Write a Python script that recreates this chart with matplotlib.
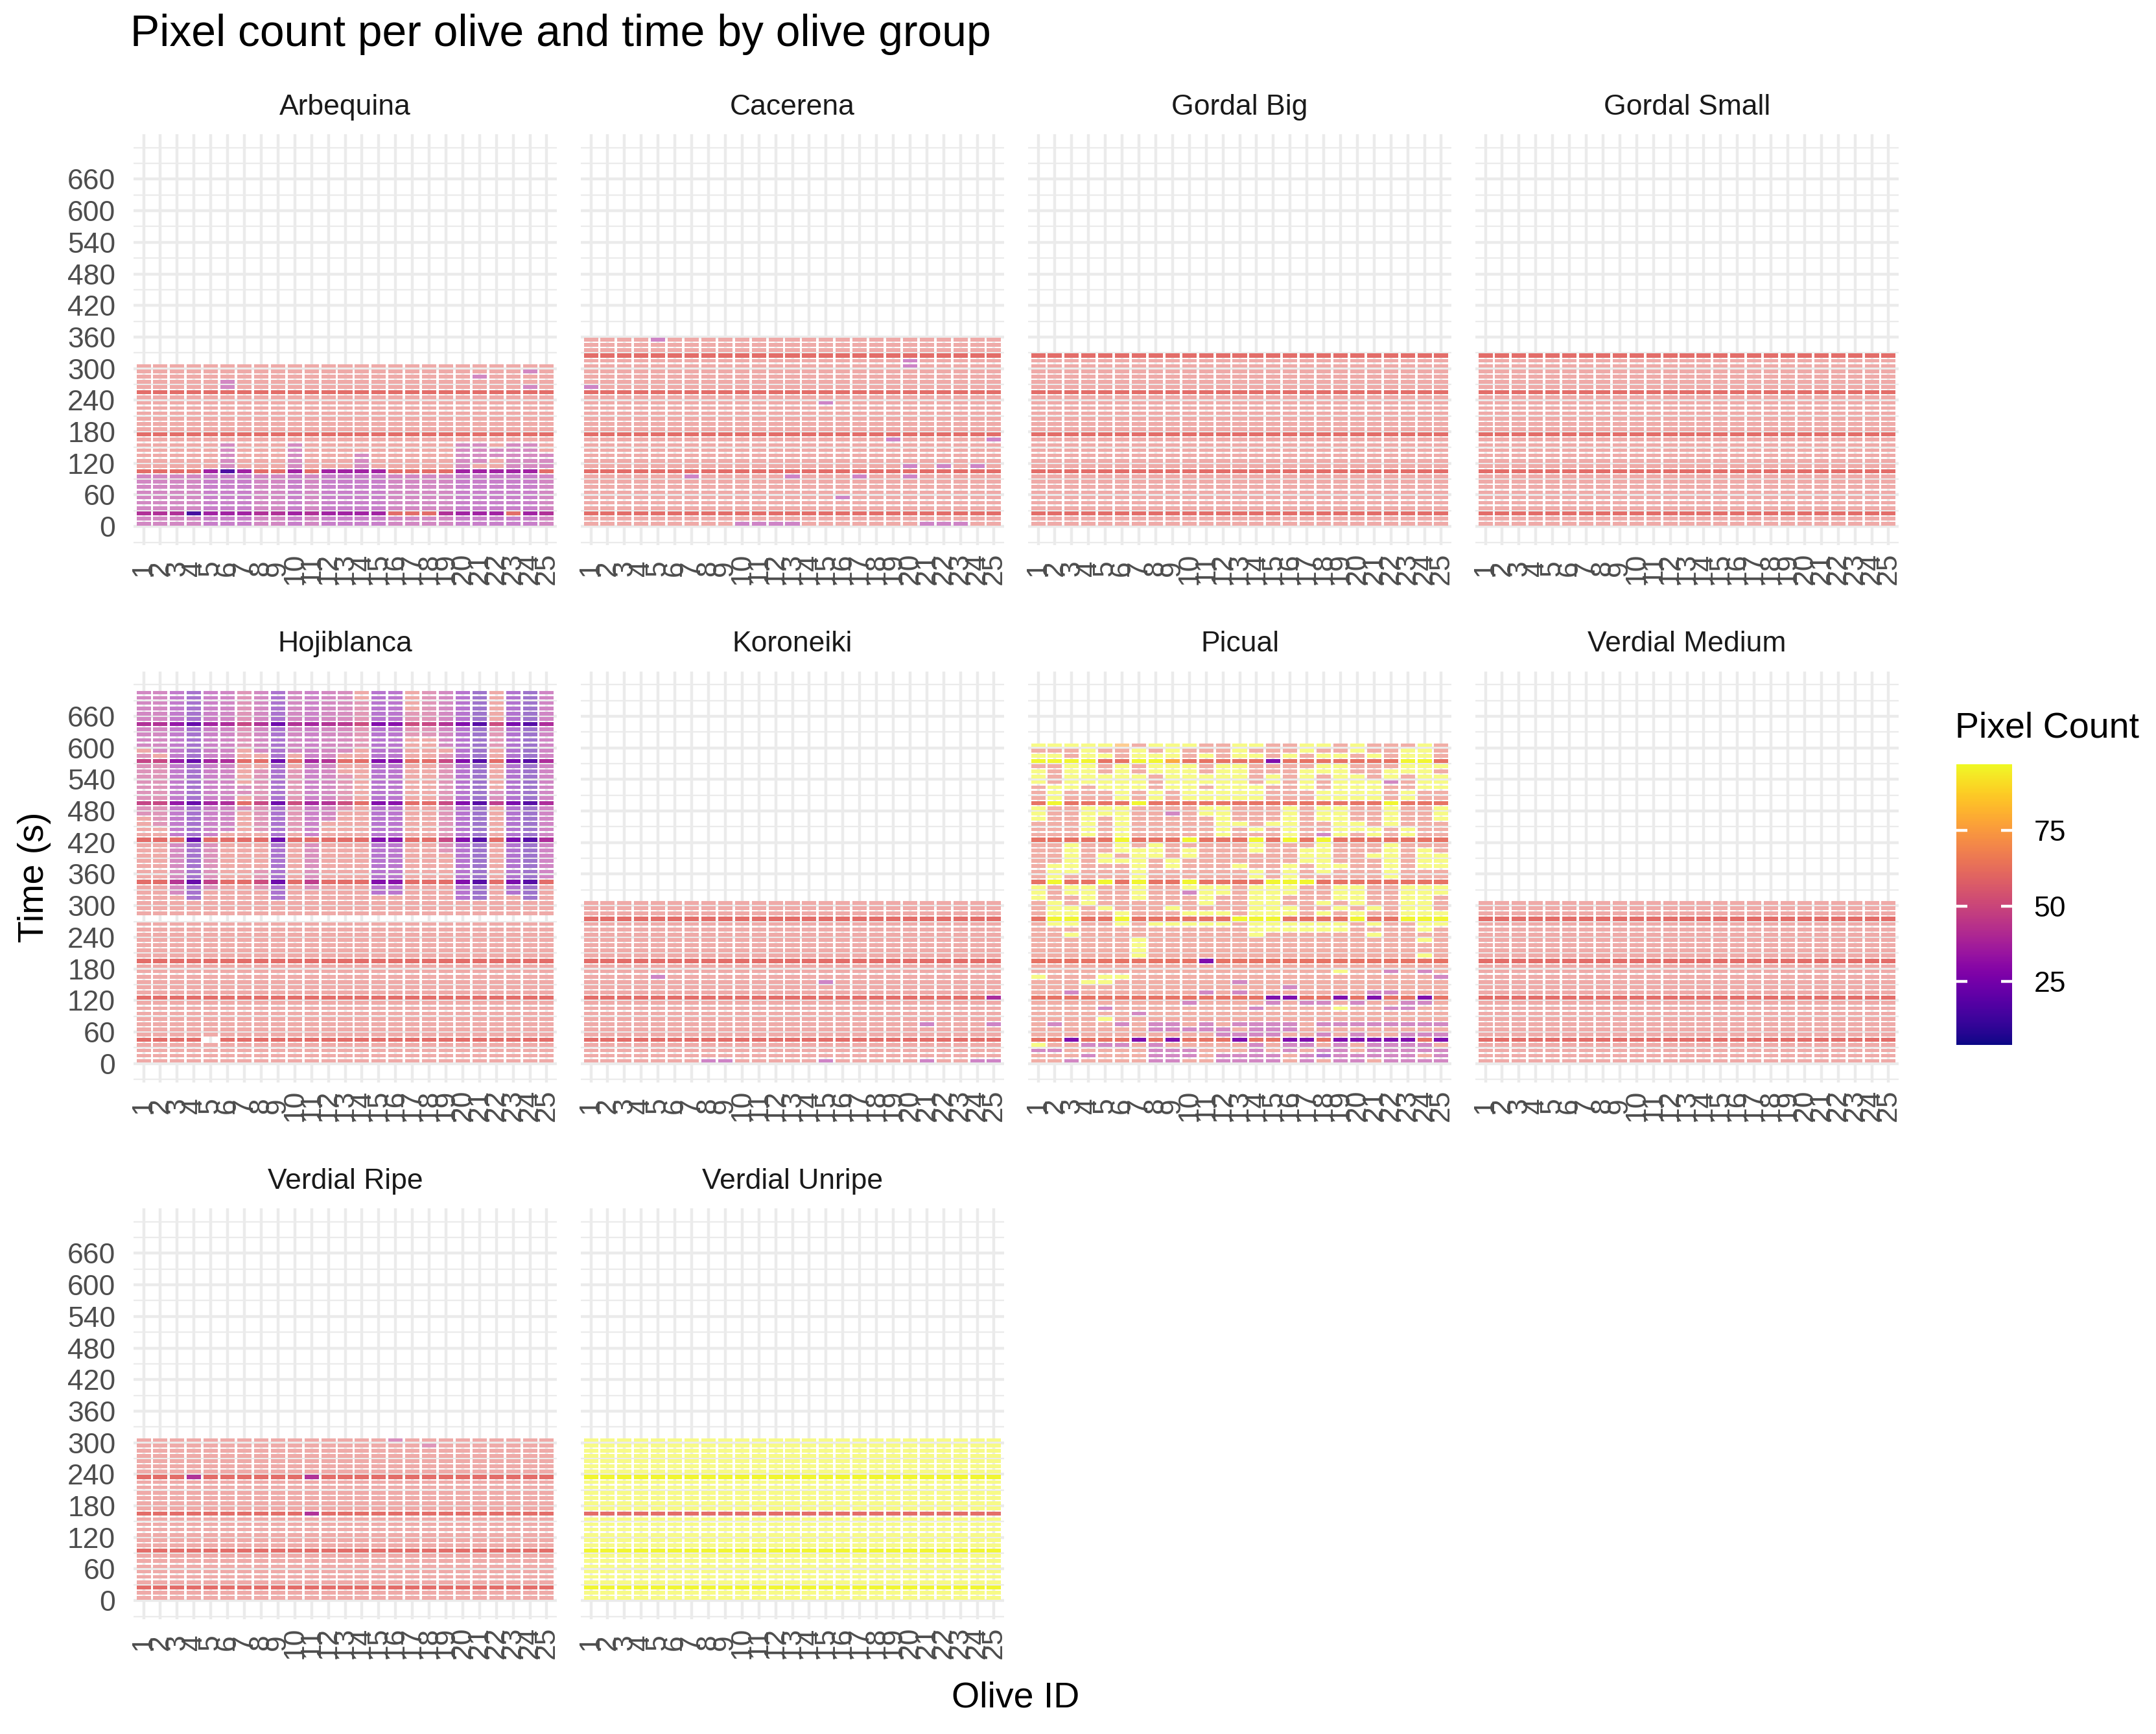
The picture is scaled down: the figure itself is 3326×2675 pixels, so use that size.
import numpy as np
import matplotlib
matplotlib.use('Agg')
from matplotlib import pyplot as plt
from matplotlib.colors import Normalize

plt.rcParams['font.family'] = ['Liberation Sans', 'DejaVu Sans']

# ---- data ----------------------------------------------------------------
groups = ['Arbequina', 'Cacerena', 'Gordal Big', 'Gordal Small', 'Hojiblanca',
          'Koroneiki', 'Picual', 'Verdial Medium', 'Verdial Ripe', 'Verdial Unripe']
olive_ids = list(range(1, 26))
time_step = 10
last_time = {'Arbequina': 305, 'Cacerena': 355, 'Gordal Big': 325, 'Gordal Small': 325,
             'Hojiblanca': 705, 'Koroneiki': 305, 'Picual': 605, 'Verdial Medium': 305,
             'Verdial Ripe': 305, 'Verdial Unripe': 305}
base_count = {'Arbequina': 60, 'Cacerena': 60, 'Gordal Big': 60, 'Gordal Small': 60,
              'Hojiblanca': 60, 'Koroneiki': 60, 'Picual': 62, 'Verdial Medium': 60,
              'Verdial Ripe': 60, 'Verdial Unripe': 96}
missing_times = {'Hojiblanca': [275]}
missing_cells = {'Hojiblanca': [(5, 45)]}
count_limits = (4, 97)

# (group, olives, time from, time to, pixel count)
count_patches = [
    ('Arbequina', olive_ids, 5, 95, 40),
    ('Arbequina', [5, 6, 7, 10, 12, 13, 14, 15, 20, 21, 22, 23, 24], 5, 105, 35),
    ('Arbequina', [16, 17, 18, 23], 25, 25, 60),
    ('Arbequina', [4], 25, 25, 12), ('Arbequina', [6], 105, 105, 14),
    ('Arbequina', [6, 10, 20, 23, 24], 115, 155, 42),
    ('Arbequina', [14, 25], 115, 135, 42), ('Arbequina', [21], 125, 155, 42),
    ('Arbequina', [22], 135, 145, 42), ('Arbequina', [6], 265, 275, 40),
    ('Arbequina', [21], 285, 285, 40), ('Arbequina', [24], 265, 265, 40),
    ('Arbequina', [24], 295, 295, 40),
    ('Cacerena', [5], 355, 355, 38), ('Cacerena', [20], 305, 315, 38),
    ('Cacerena', [1], 265, 265, 38), ('Cacerena', [15], 235, 235, 38),
    ('Cacerena', [19, 25], 165, 165, 38), ('Cacerena', [20, 22, 24], 115, 115, 38),
    ('Cacerena', [7, 13, 17, 20], 95, 95, 38), ('Cacerena', [16], 55, 55, 38),
    ('Cacerena', [10, 11, 12, 13, 21, 22, 23], 5, 5, 38),
    ('Koroneiki', [5], 165, 165, 38), ('Koroneiki', [15], 155, 155, 38),
    ('Koroneiki', [25], 125, 125, 38), ('Koroneiki', [21, 25], 75, 75, 38),
    ('Koroneiki', [8, 9, 15, 21, 24, 25], 5, 5, 38),
    ('Verdial Ripe', [4, 11], 235, 235, 40), ('Verdial Ripe', [11], 165, 165, 40),
    ('Verdial Ripe', [16], 305, 305, 44), ('Verdial Ripe', [18], 295, 295, 48),
    ('Verdial Unripe', olive_ids, 165, 165, 60),
]

# Hojiblanca purple runs per olive: (olive, time from, time to, pixel count)
hojiblanca_purple = [
    (1, 600, 705, 40), (1, 470, 590, 47), (2, 590, 705, 41), (2, 450, 580, 48),
    (3, 430, 705, 32), (3, 320, 420, 42), (4, 310, 705, 20),
    (5, 430, 705, 36), (5, 330, 420, 46), (6, 440, 705, 39),
    (7, 600, 705, 48), (7, 515, 525, 45), (7, 485, 485, 45),
    (8, 590, 705, 41), (8, 440, 560, 48), (8, 335, 365, 50), (9, 310, 705, 22),
    (10, 590, 705, 41), (10, 440, 555, 50), (11, 430, 705, 37), (11, 330, 420, 45),
    (12, 460, 705, 41), (13, 590, 705, 43), (13, 485, 545, 50), (14, 600, 690, 50),
    (15, 320, 705, 27), (16, 320, 705, 29), (17, 625, 665, 50), (18, 625, 705, 48),
    (19, 600, 705, 41), (19, 400, 590, 48), (20, 310, 705, 27), (21, 310, 705, 16),
    (22, 490, 520, 45), (22, 600, 650, 50), (23, 320, 705, 25), (24, 310, 705, 16),
    (25, 350, 705, 39),
]
for olive, t0, t1, v in hojiblanca_purple:
    count_patches.append(('Hojiblanca', [olive], t0, t1, v))

# Picual read as levels, one line per time step from 605 s down to 5 s
picual_levels = {'.': 62, 'y': 96, 'o': 78, 'p': 40, 'P': 26}
picual_rows = [
    "yyyyyo.yyy..yy..yy.y...y.", "...y..y.y...y...y..y..yy.", "yy.yy.yyy.y.yy.y.yy.y.yy.",
    "yyyy..yyo.....P.......yy.", "..yy.y.yyy.yy....yy...yyy", "y.yy.y.yyy.yy...yyy..yyy.",
    "y.yyyyy.yyyyy.y.y.yy.y.yy", "y.yyyyy.yyyyy.y.y.yyyp.yy", ".yy.yyy.yy.yyy..y.yyy..yy",
    ".y...y.y.yyyyy...yyyy.y..", ".y...y.y.yyyyy...yyyy.y..", ".y....y..............y...",
    "y..yyy....yy...y.yy..y..y", "y..yyy..p.yy...y.yy..y..y", "y..y.y.....y...y.yy..y..y",
    "...y.y.....yy.yy..yy.y...", "...y.y.....y.y.y..yyy.y..", "...y.y.....y...y.py.y.y..",
    ".....y...y...y.y.y.......", "..y..y.y.....y...y...y...", "..y..yyy.y...y..yy...y.y.",
    "..y.y.yy.y......yy..yy.yy", "..y.yyy.y.......yy...y.yy", ".yy...y.y...y..y.yy..y.yy",
    ".yy...y......y.y.y...y...", ".y....y......y.y.....y...", ".y..y.y..y....yyy........",
    "y.yy..y..yyy.yyy..yy..yyy", "y.yy..y..pyy.yyy..yy..yyy", "y..y..y...y..yy...yy..yy.",
    ".y.y......y..yy..y.y..yy.", ".yy.y...y....yyy..y.y.yy.", ".yy..y...yyy.yyy.y.y..yyy",
    ".yy..y......yyy....y..yyy", ".yy..y.yyyyy.yyyyyy.y..yy", ".............yyyyyy....y.",
    "..y..........y......y....", "......y................y.", "......y..................",
    "......y..................", "......y................y.", "..........P..............",
    ".........................", "..................y..p.p.", "y...yy..................p",
    "...yy.......p............", "...............p.........", "..p.......p.p.......pp...",
    "..............PP..P.P..P.", ".........p....p.pp.p..pp.", "....p........p....y..pp..",
    "......p..................", "....y....................", ".p...p.pp.p.pppp.pppppppp",
    ".......ppppp.ppp.........", "...........pppp..p.p..ppp", "..P...P.P...P..PP.PPPPP.P",
    "y..ppp.p.....p.pp.p.pppp.", "pp.....ppp...p.p.pp.ppppp", "...p...ppp.pppp.pPppppp.p",
    "..p....pp..pppp.p.pp.pppp",
]

# rows that the original render shows as solid bands, per row of panels
solid_rows = {0: [25, 105, 175, 255, 325],
              1: [45, 125, 195, 275, 345, 425, 495, 575, 645],
              2: [25, 95, 165, 235]}


def build_grid(group):
    times = np.arange(5, last_time[group] + 1, time_step)
    grid = np.full((len(times), len(olive_ids)), float(base_count[group]))
    if group == 'Picual':
        for k, row in enumerate(picual_rows[::-1]):
            row = row.ljust(25, '.')[:25]
            grid[k] = [picual_levels[ch] for ch in row]
    for g, olives, t0, t1, v in count_patches:
        if g != group:
            continue
        rows = (times >= t0) & (times <= t1)
        for o in olives:
            grid[rows, o - 1] = v
    for t in missing_times.get(group, []):
        grid[times == t, :] = np.nan
    for o, t in missing_cells.get(group, []):
        grid[times == t, o - 1] = np.nan
    return times, grid


# ---- figure ----------------------------------------------------------------
W, H = 3326, 2675
fig = plt.figure(figsize=(W / 200, H / 200), dpi=200)


def px_axes(left, top, w, h):
    return fig.add_axes([left / W, 1 - (top + h) / H, w / W, h / H])


cmap = plt.get_cmap('plasma')
norm = Normalize(*count_limits)


def washed(vals, amount):
    rgba = cmap(norm(vals))
    rgba[:, :3] = rgba[:, :3] * (1 - amount) + amount
    return rgba


t_top = max(last_time.values()) + time_step / 2
y_lo, y_hi = 0 - 0.05 * t_top, t_top * 1.05
olives = np.array(olive_ids)

for i, g in enumerate(groups):
    r, c = divmod(i, 4)
    ax = px_axes(206 + 690 * c, 207 + 828.5 * r, 653, 634)
    times, grid = build_grid(g)
    for t, vals in zip(times, grid):
        ok = ~np.isnan(vals)
        if not ok.any():
            continue
        if t in solid_rows[r]:
            h, colors = 8.0, washed(vals[ok], 0.05)
        else:
            h, colors = 7.0, washed(vals[ok], 0.45)
        ax.bar(olives[ok], h, bottom=t - h / 2, width=0.85,
               color=colors, linewidth=0, zorder=2)
    ax.set_xlim(0.4, 25.6)
    ax.set_ylim(y_lo, y_hi)
    ax.set_xticks(olive_ids)
    ax.set_xticklabels([str(o) for o in olive_ids], rotation=90)
    ax.set_yticks(range(0, 661, 60))
    ax.set_yticks([-30] + list(range(30, 700, 60)) + [720], minor=True)
    ax.grid(which='major', color='#EBEBEB', lw=1.6, zorder=0)
    ax.grid(which='minor', axis='y', color='#EBEBEB', lw=0.8, zorder=0)
    ax.set_axisbelow(True)
    ax.tick_params(which='both', length=0, labelsize=16, colors='#4D4D4D')
    ax.tick_params(axis='x', pad=13)
    ax.tick_params(axis='y', pad=10)
    for lab in ax.get_xticklabels():
        lab.set_va('center')
    if c != 0:
        ax.set_yticklabels([])
    for s in ax.spines.values():
        s.set_visible(False)
    ax.text(0.5, 1 + 41.6 / 634, g, transform=ax.transAxes, ha='center', va='center',
            fontsize=16, color='#1A1A1A')

fig.text(201 / W, 1 - 53 / H, 'Pixel count per olive and time by olive group',
         fontsize=24.4, ha='left', va='center', color='black')
fig.text(1567 / W, 1 - 2620 / H, 'Olive ID', fontsize=20, ha='center', va='center')
fig.text(53 / W, 1 - 1353 / H, 'Time (s)', fontsize=20, ha='center', va='center',
         rotation=90)

# colour bar
fig.text(3016 / W, 1 - 1124 / H, 'Pixel Count', fontsize=20, ha='left', va='center')
cax = px_axes(3018, 1179, 86, 433)
vmin, vmax = count_limits
grad = np.linspace(vmin, vmax, 300)[:, None]
cax.imshow(grad, aspect='auto', origin='lower', extent=[0, 1, vmin, vmax],
           cmap=cmap, norm=norm)
cax.set_xlim(0, 1)
cax.set_ylim(vmin, vmax)
bar_ticks = [25, 50, 75]
cax.hlines(bar_ticks, 0, 0.2, color='white', lw=1.6)
cax.hlines(bar_ticks, 0.8, 1, color='white', lw=1.6)
cax.set_xticks([])
cax.yaxis.tick_right()
cax.set_yticks(bar_ticks)
cax.tick_params(length=0, pad=12, labelsize=16, colors='black')
for s in cax.spines.values():
    s.set_visible(False)

plt.savefig('out.png', dpi=200)
